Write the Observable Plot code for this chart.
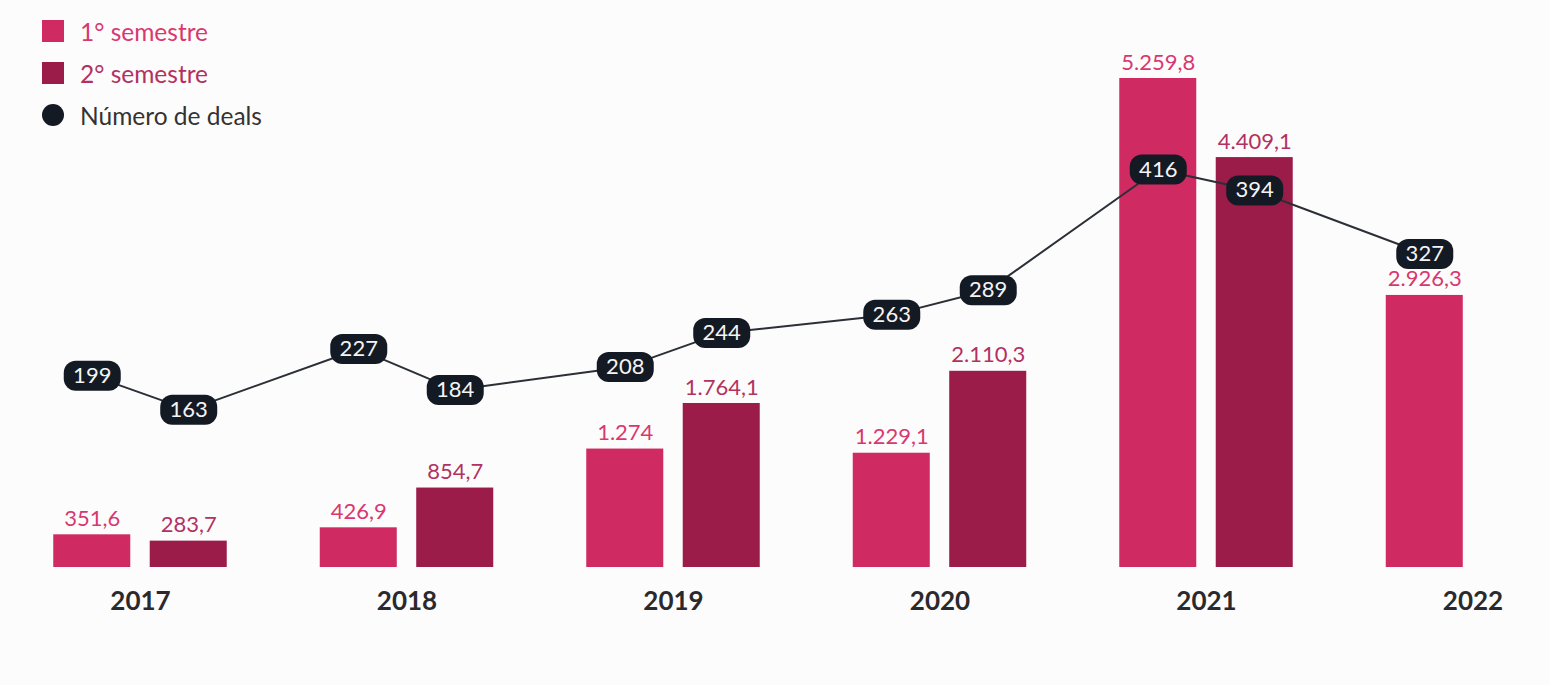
<!DOCTYPE html>
<html>
<head>
<meta charset="utf-8">
<script src="https://cdn.jsdelivr.net/npm/d3@7"></script>
<script src="https://cdn.jsdelivr.net/npm/@observablehq/plot@0.6"></script>
<style>
  html, body { margin: 0; padding: 0; background: #fdfcfd; overflow: hidden; font-family: Lato, "Noto Sans", sans-serif; }
  #wrap { position: relative; width: 1550px; height: 685px; }
  #legend { position: absolute; left: 42px; top: 20px; font-family: Lato, sans-serif; font-size: 24.5px; }
  .item { display: flex; align-items: center; height: 22px; margin-bottom: 20px; }
  .sw { width: 22px; height: 22px; margin-right: 16px; }
  .dot { border-radius: 50%; }
  #chart { position: absolute; left: 0; top: 0; }
</style>
</head>
<body>
<div id="wrap">
  <div id="chart"></div>
  <div id="legend"></div>
</div>
<script>
// ---- data ----
const years = [2017, 2018, 2019, 2020, 2021, 2022];
const sem1Values = [351.6, 426.9, 1274, 1229.1, 5259.8, 2926.3];
const sem2Values = [283.7, 854.7, 1764.1, 2110.3, 4409.1, null];
const sem1Deals = [199, 227, 208, 263, 416, 327];
const sem2Deals = [163, 184, 244, 289, 394, null];
const seriesNames = ["1° semestre", "2° semestre", "Número de deals"];

// ---- styles ----
const c1 = "#d02a62", c2 = "#9b1c48";
const l1 = "#d9386f", l2 = "#b2325f";
const dark = "#141a24";

const rows = [];
years.forEach((y, i) => {
  if (sem1Values[i] != null) rows.push({year: y, sem: 1, value: sem1Values[i], deals: sem1Deals[i]});
  if (sem2Values[i] != null) rows.push({year: y, sem: 2, value: sem2Values[i], deals: sem2Deals[i]});
});

const OFF = 0.181, HW = 0.1445;
const pos = d => d.year + (d.sem === 1 ? -OFF : OFF);
// deals drawn on the value axis (secondary scale)
const dealY = d => 30.1 + d.deals * 10.218;

const loc = d3.formatLocale({decimal: ",", thousands: ".", grouping: [3], currency: ["R$", ""]});
const fmt = loc.format(",.1~f");

const pill = {
  draw(ctx) {
    const w = 28.5, h = 15, r = 12;
    ctx.moveTo(-w + r, -h);
    ctx.lineTo(w - r, -h);
    ctx.arcTo(w, -h, w, -h + r, r);
    ctx.lineTo(w, h - r);
    ctx.arcTo(w, h, w - r, h, r);
    ctx.lineTo(-w + r, h);
    ctx.arcTo(-w, h, -w, h - r, r);
    ctx.lineTo(-w, -h + r);
    ctx.arcTo(-w, -h, -w + r, -h, r);
    ctx.closePath();
  }
};

const chart = Plot.plot({
  width: 1550,
  height: 685,
  marginTop: 0,
  marginBottom: 118,
  marginLeft: 0,
  marginRight: 0,
  style: {fontFamily: "Lato, sans-serif", background: "transparent"},
  x: {type: "linear", domain: [2016.4747, 2022.2908], axis: null},
  y: {domain: [0, 6098.7], axis: null},
  marks: [
    Plot.rectY(rows, {
      x1: d => pos(d) - HW, x2: d => pos(d) + HW, y1: 0, y2: "value",
      fill: d => d.sem === 1 ? c1 : c2
    }),
    Plot.text(rows, {
      x: pos, y: "value", text: d => fmt(d.value), dy: -16,
      fill: d => d.sem === 1 ? l1 : l2, fontSize: 22, lineAnchor: "middle"
    }),
    Plot.line(rows, {x: pos, y: dealY, stroke: "#2b2f36", strokeWidth: 2}),
    Plot.dot(rows, {x: pos, y: dealY, symbol: pill, fill: dark, stroke: "none"}),
    Plot.text(rows, {x: pos, y: dealY, text: d => String(d.deals), fill: "#f4f4f6", fontSize: 22, lineAnchor: "middle"}),
    Plot.text(years, {x: d => d, y: 0, text: d => String(d), dy: 34, fontSize: 26, fontWeight: 700, fill: "#2a2a2c", lineAnchor: "middle"})
  ]
});
document.getElementById("chart").appendChild(chart);

// legend
const legendColors = [c1, c2, dark];
const legendText = ["#d9386f", "#b2325f", "#333"];
const lg = document.getElementById("legend");
seriesNames.forEach((n, i) => {
  const it = document.createElement("div");
  it.className = "item";
  const sw = document.createElement("div");
  sw.className = "sw" + (i === 2 ? " dot" : "");
  sw.style.background = legendColors[i];
  const t = document.createElement("span");
  t.textContent = n;
  t.style.color = legendText[i];
  it.appendChild(sw); it.appendChild(t);
  lg.appendChild(it);
});
</script>
</body>
</html>
